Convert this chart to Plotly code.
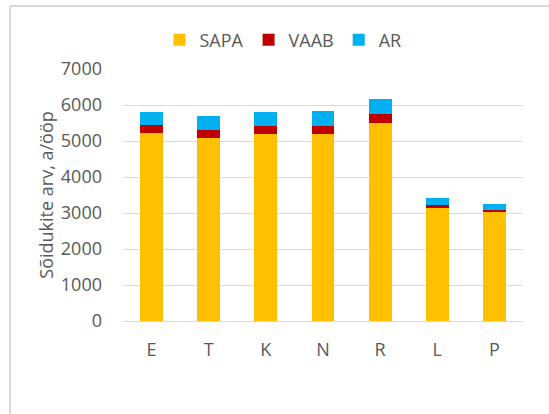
import plotly.graph_objects as go

categories = ['E', 'T', 'K', 'N', 'R', 'L', 'P']
sapa = [5220, 5090, 5185, 5205, 5500, 3150, 3030]
vaab = [230, 215, 240, 220, 260, 80, 65]
ar = [345, 380, 370, 400, 400, 185, 150]

series = [('SAPA', sapa, '#FFC000'), ('VAAB', vaab, '#C00000'), ('AR', ar, '#00B0F0')]

fig = go.Figure()
for name, vals, colour in series:
    fig.add_trace(go.Bar(x=categories, y=vals, name=name, marker_color=colour,
                         marker_line_width=0))

font_col = '#595959'
border = dict(color='#d9d9d9', width=2)
fig.update_layout(
    barmode='stack',
    bargap=0.6,
    width=549,
    height=414,
    margin=dict(l=123, r=26, t=69, b=93),
    paper_bgcolor='white',
    plot_bgcolor='white',
    font=dict(family='Open Sans, sans-serif', size=18, color=font_col),
    legend=dict(orientation='h', x=0.40, xanchor='center', y=1.115, yanchor='middle',
                font=dict(size=18, color=font_col), itemwidth=30,
                traceorder='normal'),
    xaxis=dict(showgrid=False, showline=True, linecolor='#d9d9d9', linewidth=1,
               ticks='', ticklabelstandoff=12),
    yaxis=dict(range=[0, 7000], dtick=1000, showgrid=True, gridcolor='#d9d9d9',
               gridwidth=1, zeroline=False, ticks='', ticklabelstandoff=20,
               title=dict(text='Sõidukite arv, a/ööp', standoff=2,
                          font=dict(size=18, color=font_col))),
    # chart-area frame: only its left and top edges fall inside the picture
    shapes=[
        dict(type='line', xref='paper', yref='paper',
             x0=-0.2825, x1=-0.2825, y0=-0.4, y1=1.25, line=border),
        dict(type='line', xref='paper', yref='paper',
             x0=-0.2825, x1=1.1, y0=1.25, y1=1.25, line=border),
    ],
)

# page has a default body margin; remove it so the figure sits at the corner
fig.write_html('out.html', config={'displayModeBar': False},
               post_script="document.body.style.margin='0';")
